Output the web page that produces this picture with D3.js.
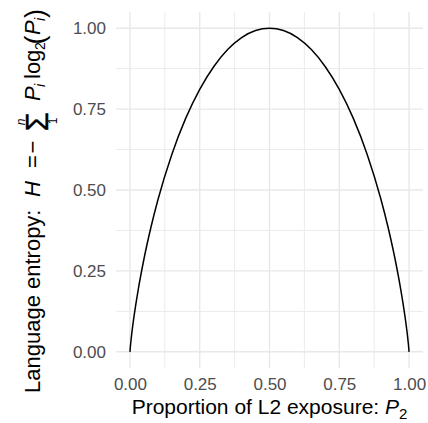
<!DOCTYPE html>
<html>
<head>
<meta charset="utf-8">
<script src="https://cdn.jsdelivr.net/npm/d3@7"></script>
<style>
  body { margin: 0; background: #fff; }
  text { font-family: "Liberation Sans", Arial, sans-serif; white-space: pre; }
</style>
</head>
<body>
<div id="chart"></div>
<script>
// proportion of L2 exposure (x) and entropy (y)
var propL2 = [0, 0.001, 0.005, 0.01, 0.02, 0.03, 0.05, 0.075, 0.1, 0.15, 0.2, 0.25, 0.3, 0.35, 0.4, 0.45,
              0.5, 0.55, 0.6, 0.65, 0.7, 0.75, 0.8, 0.85, 0.9, 0.925, 0.95, 0.97, 0.98, 0.99, 0.995, 0.999, 1];
var entropy = [0, 0.011, 0.045, 0.081, 0.141, 0.194, 0.286, 0.384, 0.469, 0.610, 0.722, 0.811, 0.881, 0.934, 0.971, 0.993,
               1.000, 0.993, 0.971, 0.934, 0.881, 0.811, 0.722, 0.610, 0.469, 0.384, 0.286, 0.194, 0.141, 0.081, 0.045, 0.011, 0];
var majorTicks = [0, 0.25, 0.5, 0.75, 1];
var minorTicks = [0.125, 0.375, 0.625, 0.875];

var width = 428, height = 423;
var panel = { left: 116, right: 423, top: 12, bottom: 368 };

var svg = d3.select("#chart").append("svg")
    .attr("width", width)
    .attr("height", height);

// scales with ggplot's 5% expansion
var x = d3.scaleLinear().domain([-0.05, 1.05]).range([panel.left, panel.right]);
var y = d3.scaleLinear().domain([-0.05, 1.05]).range([panel.bottom, panel.top]);

// grid: minor first, then major
var grid = svg.append("g");
grid.selectAll(".vminor").data(minorTicks).enter().append("line")
    .attr("x1", d => x(d)).attr("x2", d => x(d))
    .attr("y1", panel.top).attr("y2", panel.bottom)
    .attr("stroke", "#ebebeb").attr("stroke-width", 1);
grid.selectAll(".hminor").data(minorTicks).enter().append("line")
    .attr("y1", d => y(d)).attr("y2", d => y(d))
    .attr("x1", panel.left).attr("x2", panel.right)
    .attr("stroke", "#ebebeb").attr("stroke-width", 1);
grid.selectAll(".vmajor").data(majorTicks).enter().append("line")
    .attr("x1", d => x(d)).attr("x2", d => x(d))
    .attr("y1", panel.top).attr("y2", panel.bottom)
    .attr("stroke", "#e8e8e8").attr("stroke-width", 1.4);
grid.selectAll(".hmajor").data(majorTicks).enter().append("line")
    .attr("y1", d => y(d)).attr("y2", d => y(d))
    .attr("x1", panel.left).attr("x2", panel.right)
    .attr("stroke", "#e8e8e8").attr("stroke-width", 1.4);

// axes (no lines, only labels)
var xAxis = svg.append("g")
    .attr("transform", "translate(0," + panel.bottom + ")")
    .call(d3.axisBottom(x).tickValues(majorTicks).tickFormat(d3.format(".2f")).tickSize(0).tickPadding(10));
var yAxis = svg.append("g")
    .attr("transform", "translate(" + panel.left + ",0)")
    .call(d3.axisLeft(y).tickValues(majorTicks).tickFormat(d3.format(".2f")).tickSize(0).tickPadding(10));
[xAxis, yAxis].forEach(function (a) {
    a.select(".domain").remove();
    a.selectAll("text")
        .attr("fill", "#4d4d4d")
        .style("font-size", "17px")
        .style("font-family", "Liberation Sans, Arial, sans-serif");
});

// the curve
var line = d3.line()
    .x((d, i) => x(propL2[i]))
    .y((d, i) => y(entropy[i]))
    .curve(d3.curveMonotoneX);
svg.append("path")
    .datum(entropy)
    .attr("d", line)
    .attr("fill", "none")
    .attr("stroke", "#000")
    .attr("stroke-width", 1.5);

// x title
var xt = svg.append("text")
    .attr("x", (panel.left + panel.right) / 2)
    .attr("y", 414)
    .attr("text-anchor", "middle")
    .style("font-size", "21px")
    .attr("fill", "#000");
xt.append("tspan").text("Proportion of L2 exposure: ");
xt.append("tspan").style("font-style", "italic").text("P");
xt.append("tspan").attr("dy", 5).style("font-size", "15px").text("2");

// y title (plotmath-like), pieces along a rotated baseline
var fs = 22;
var yt = svg.append("g").attr("transform", "translate(40,393) rotate(-90)");
function piece(str, at, opts) {
    opts = opts || {};
    return yt.append("text")
        .attr("x", at)
        .attr("y", opts.dy || 0)
        .attr("text-anchor", opts.anchor || "start")
        .style("font-size", (opts.size || fs) + "px")
        .style("font-style", opts.italic ? "italic" : "normal")
        .attr("fill", "#000")
        .text(str);
}
piece("Language entropy:", 0);
piece("H", 196, { italic: true });
piece("=", 231.5, { anchor: "middle" });
piece("\u2212", 246, { anchor: "middle" });
piece("\u03A3", 271, { anchor: "middle", size: 31, dy: 8 }).style("stroke", "#000").style("stroke-width", 0.4);
piece("n", 271, { anchor: "middle", size: 12, italic: true, dy: -15 });
piece("1", 272, { anchor: "middle", size: 12, dy: 17 });
piece("P", 292, { italic: true });
piece("i", 306, { italic: true, size: 14, dy: 5 });
piece("log", 314);
piece("2", 343, { size: 14, dy: 5 });
piece("(", 348.5, { size: 27, dy: 4 });
piece("P", 358, { italic: true });
piece("i", 372, { italic: true, size: 14, dy: 5 });
piece(")", 375, { size: 27, dy: 4 });
</script>
</body>
</html>
